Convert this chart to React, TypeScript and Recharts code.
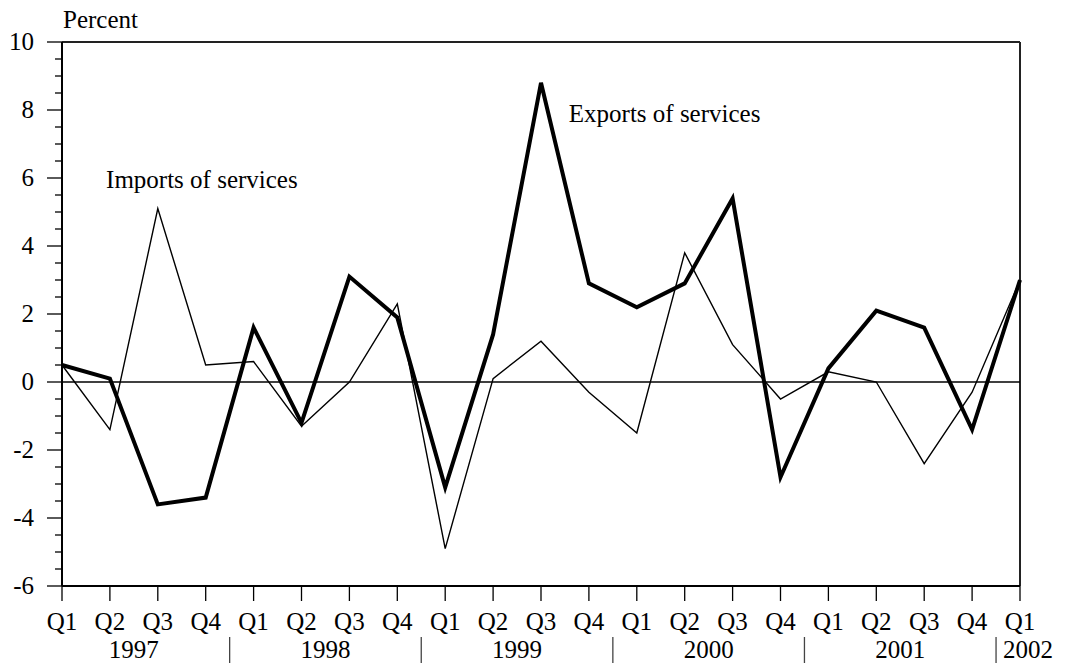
import React from 'react';
import { LineChart, Line, XAxis, YAxis, ReferenceLine, ReferenceDot } from 'recharts';

const quarterLabels = [
  'Q1', 'Q2', 'Q3', 'Q4',
  'Q1', 'Q2', 'Q3', 'Q4',
  'Q1', 'Q2', 'Q3', 'Q4',
  'Q1', 'Q2', 'Q3', 'Q4',
  'Q1', 'Q2', 'Q3', 'Q4',
  'Q1',
];

const yearLabels = ['1997', '1998', '1999', '2000', '2001', '2002'];
const yearLabelPositions = [1.5, 5.5, 9.5, 13.5, 17.5, 19.5];
const yearSeparators = [3.5, 7.5, 11.5, 15.5, 19.5];

const exportsOfServices = [
  0.5, 0.1, -3.6, -3.4,
  1.6, -1.2, 3.1, 1.9,
  -3.1, 1.4, 8.8, 2.9,
  2.2, 2.9, 5.4, -2.8,
  0.4, 2.1, 1.6, -1.4,
  3.0,
];

const importsOfServices = [
  0.5, -1.4, 5.1, 0.5,
  0.6, -1.3, 0.0, 2.3,
  -4.9, 0.1, 1.2, -0.3,
  -1.5, 3.8, 1.1, -0.5,
  0.3, 0.0, -2.4, -0.3,
  3.0,
];

const yMajorTicks = [-6, -4, -2, 0, 2, 4, 6, 8, 10];
const yAllTicks = [
  -6, -5.5, -5, -4.5, -4, -3.5, -3, -2.5, -2, -1.5, -1, -0.5,
  0, 0.5, 1, 1.5, 2, 2.5, 3, 3.5, 4, 4.5, 5, 5.5,
  6, 6.5, 7, 7.5, 8, 8.5, 9, 9.5, 10,
];

const data = quarterLabels.map((q, i) => ({
  idx: i,
  quarter: q,
  exports: exportsOfServices[i],
  imports: importsOfServices[i],
}));

const FONT = '"Liberation Serif", "Times New Roman", serif';
const FS = 25;

const xTicks = quarterLabels.map((_, i) => i);
const yearTicks = [...yearLabelPositions, ...yearSeparators.filter((s) => !yearLabelPositions.includes(s))];

const YTick = (props: any) => {
  const { x, y, payload } = props;
  const v = payload.value;
  const major = yMajorTicks.includes(v);
  return (
    <g>
      <line x1={x} x2={x - (major ? 15 : 7)} y1={y} y2={y} stroke="#000" strokeWidth={1.3} />
      {major && (
        <text x={x - 28} y={y} dy={8} textAnchor="end" fontFamily={FONT} fontSize={FS} fill="#000">
          {String(v)}
        </text>
      )}
    </g>
  );
};

const XTick = (props: any) => {
  const { x, y, payload } = props;
  const i = payload.value;
  return (
    <g>
      <line x1={x} x2={x} y1={y} y2={y + 15} stroke="#000" strokeWidth={1.3} />
      <text x={x} y={y + 44} textAnchor="middle" fontFamily={FONT} fontSize={FS} fill="#000">
        {quarterLabels[i]}
      </text>
    </g>
  );
};

const YearTick = (props: any) => {
  const { x, y, payload } = props;
  const v = payload.value;
  const labelIdx = yearLabelPositions.indexOf(v);
  const isSep = yearSeparators.includes(v);
  const isLast = labelIdx === yearLabels.length - 1;
  return (
    <g>
      {isSep && <line x1={x} x2={x} y1={y + 11} y2={y + 37} stroke="#444" strokeWidth={1.3} />}
      {labelIdx >= 0 && (
        <text
          x={isLast ? x + 7 : x}
          y={y + 32}
          textAnchor={isLast ? 'start' : 'middle'}
          fontFamily={FONT}
          fontSize={FS}
          fill="#000"
        >
          {yearLabels[labelIdx]}
        </text>
      )}
    </g>
  );
};

const annotation = (text: string) => (props: any) => {
  const vb = props.viewBox || {};
  return (
    <text x={vb.x} y={vb.y} fontFamily={FONT} fontSize={FS} fill="#000">
      {text}
    </text>
  );
};

const percentLabel = (props: any) => {
  const vb = props.viewBox || {};
  return (
    <text x={vb.x + vb.width + 1} y={vb.y - 14} fontFamily={FONT} fontSize={FS} fill="#000">
      Percent
    </text>
  );
};

export default function App() {
  return (
    <div style={{ width: 1066, height: 665, background: '#fff', margin: '-8px 0 0 -8px' }}>
      <LineChart
        width={1066}
        height={665}
        data={data}
        margin={{ top: 42, right: 46, bottom: 9, left: 0 }}
      >
        <XAxis
          dataKey="idx"
          type="number"
          domain={[0, 20]}
          ticks={xTicks}
          interval={0}
          allowDecimals
          height={40}
          tickSize={0}
          tickMargin={0}
          tickLine={false}
          tick={<XTick />}
          axisLine={{ stroke: '#000', strokeWidth: 2 }}
        />
        <XAxis
          xAxisId="years"
          dataKey="idx"
          type="number"
          domain={[0, 20]}
          ticks={yearTicks}
          interval={0}
          allowDecimals
          height={30}
          tickSize={0}
          tickMargin={0}
          tickLine={false}
          tick={<YearTick />}
          axisLine={false}
        />
        <YAxis
          type="number"
          domain={[-6, 10]}
          ticks={yAllTicks}
          interval={0}
          allowDecimals
          width={62}
          tickSize={0}
          tickMargin={0}
          tickLine={false}
          tick={<YTick />}
          axisLine={{ stroke: '#000', strokeWidth: 2 }}
          label={{ content: percentLabel } as any}
        />
        <ReferenceLine y={10} stroke="#222" strokeWidth={2} />
        <ReferenceLine x={20} stroke="#222" strokeWidth={2} />
        <ReferenceLine y={0} stroke="#000" strokeWidth={1.3} />
        <Line
          dataKey="imports"
          stroke="#000"
          strokeWidth={1.4}
          dot={false}
          activeDot={false}
          isAnimationActive={false}
          strokeLinejoin="miter"
        />
        <Line
          dataKey="exports"
          stroke="#000"
          strokeWidth={4}
          dot={false}
          activeDot={false}
          isAnimationActive={false}
          strokeLinejoin="miter"
        />
        <ReferenceDot
          x={0.92}
          y={5.7}
          r={0}
          fill="none"
          stroke="none"
          label={annotation('Imports of services')}
        />
        <ReferenceDot
          x={10.58}
          y={7.65}
          r={0}
          fill="none"
          stroke="none"
          label={annotation('Exports of services')}
        />
      </LineChart>
    </div>
  );
}
